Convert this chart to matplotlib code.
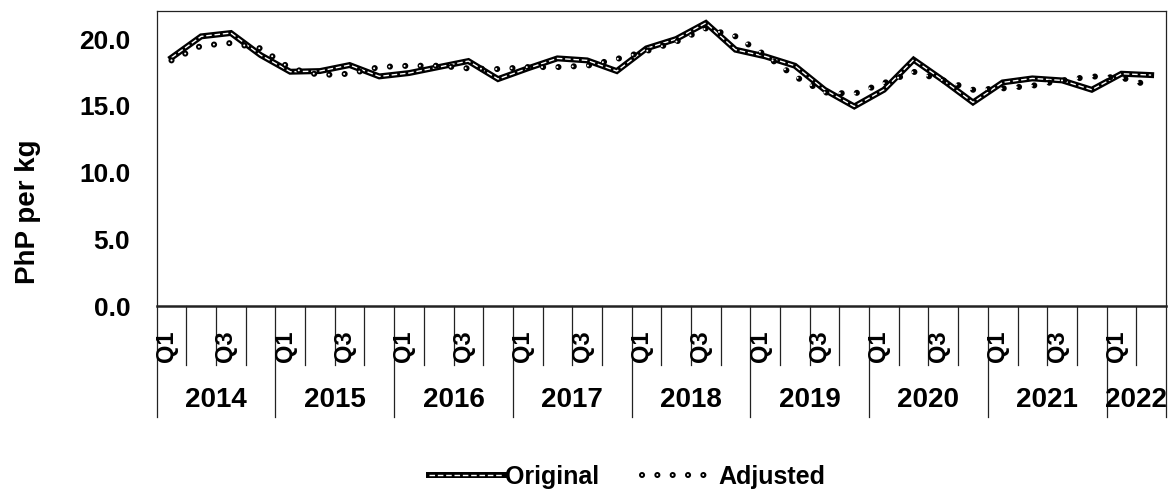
import matplotlib.pyplot as plt
import matplotlib.transforms as mtransforms
from matplotlib.legend_handler import HandlerTuple

plt.rcParams['font.family'] = ['Liberation Sans', 'DejaVu Sans']
plt.rcParams['font.weight'] = 'bold'

# quarterly series, 2014 Q1 .. 2022 Q2
years = ['2014', '2015', '2016', '2017', '2018', '2019', '2020', '2021', '2022']
quarters = ['Q1', 'Q2', 'Q3', 'Q4'] * 8 + ['Q1', 'Q2']
original = [18.6, 20.2, 20.45, 18.8, 17.55, 17.6, 18.05, 17.2, 17.45, 17.9, 18.35, 17.0,
            17.8, 18.55, 18.4, 17.6, 19.3, 20.0, 21.2, 19.2, 18.7, 18.0, 16.2, 14.95,
            16.2, 18.45, 16.9, 15.25, 16.75, 17.05, 16.9, 16.2, 17.4, 17.3]
adjusted = [18.4, 19.5, 19.7, 19.3, 17.8, 17.3, 17.4, 17.9, 18.0, 18.0, 17.8, 17.75,
            17.9, 17.9, 18.0, 18.5, 19.1, 19.8, 20.8, 20.2, 18.8, 17.2, 16.0, 15.9,
            16.7, 17.55, 16.9, 16.2, 16.3, 16.5, 16.9, 17.2, 17.1, 16.5]

x = list(range(len(original)))

fig = plt.figure(figsize=(11.69, 4.93), dpi=100)
ax = fig.add_axes([0.1340, 0.3793, 0.8634, 0.5984])

# Original: thick black line with a thin white core
o1, = ax.plot(x, original, color='black', lw=4.3, solid_joinstyle='miter', zorder=3)
o2, = ax.plot(x, original, color='white', lw=1.0, dashes=(4, 2), zorder=4)

# Adjusted: hollow round dots
a1, = ax.plot(x, adjusted, color='black', lw=4.4, dashes=(0.01, 2.5),
              dash_capstyle='round', zorder=5)
a2, = ax.plot(x, adjusted, color='white', lw=1.5, dashes=(0.01, 7.333),
              dash_capstyle='round', zorder=6)

ax.set_xlim(-0.5, len(x) - 0.5)
ax.set_ylim(0, 22.1)
ax.set_yticks([0, 5, 10, 15, 20])
ax.set_yticklabels([f'{v:.1f}' for v in [0, 5, 10, 15, 20]])
ax.set_xticks([])
ax.tick_params(axis='y', length=0, pad=19, labelsize=19)
for s in ax.spines.values():
    s.set_color('#222222')
    s.set_linewidth(0.9)
ax.spines['bottom'].set_linewidth(1.8)

# two-level category axis (quarters / years)
trans = mtransforms.blended_transform_factory(ax.transData, ax.transAxes)
for k in range(len(x) + 1):
    b = k - 0.5
    bottom = -0.376 if (k % 4 == 0 or k == len(x)) else -0.2
    ax.plot([b, b], [0, bottom], transform=trans, clip_on=False,
            color='#222222', lw=0.9)
for i, q in enumerate(quarters):
    if i % 2 == 0:
        ax.text(i - 0.17, -0.19, q, transform=trans, rotation=90,
                ha='center', va='bottom', fontsize=17)
for j, yr in enumerate(years):
    idx = [i for i in range(len(x)) if i // 4 == j]
    cx = (idx[0] + idx[-1]) / 2
    ax.text(cx, -0.319, yr, transform=trans, ha='center', va='center', fontsize=20)

fig.text(28 / 1169, 1 - 212 / 493, 'PhP per kg', rotation=90,
         ha='center', va='center', fontsize=20)

fig.legend(handles=[(o1, o2), (a1, a2)], labels=['Original', 'Adjusted'],
           handler_map={tuple: HandlerTuple(ndivide=1)},
           loc='center', bbox_to_anchor=(627 / 1169, 1 - 477 / 493),
           ncol=2, frameon=False, fontsize=18, handlelength=3.0,
           handletextpad=0.05, columnspacing=1.7, borderpad=0)

fig.savefig('out.png', dpi=100)
